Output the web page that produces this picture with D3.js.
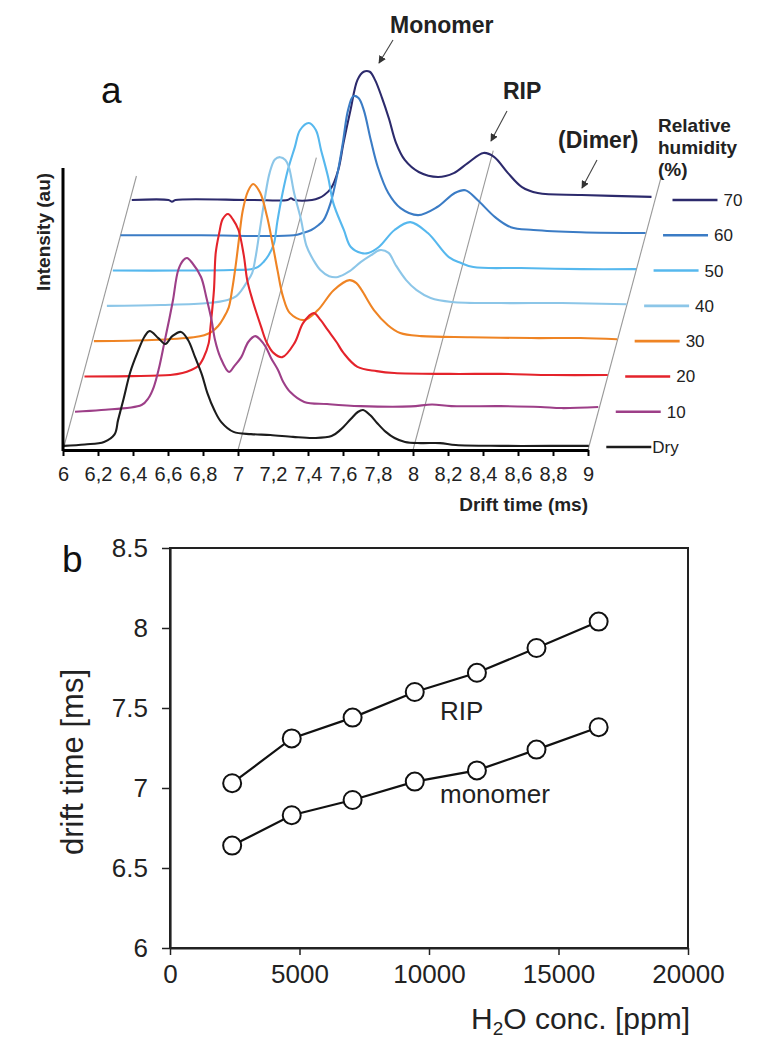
<!DOCTYPE html>
<html><head><meta charset="utf-8">
<script src="https://cdn.jsdelivr.net/npm/d3@7"></script>
<style>
body{margin:0;background:#fff}
svg{display:block;font-family:"Liberation Sans",Arial,Helvetica,sans-serif}
</style>
</head><body>
<svg id="chart" width="776" height="1050"></svg>
<script>
// ---------- Panel a data: drift time (ms), intensity (au) ----------
const seriesNames  = ["Dry","10","20","30","40","50","60","70"];
const seriesColors = ["#1c1c1c","#9d3f88","#e4232b","#ef8424","#8cc6e8","#56b8ee","#3b7cc5","#2c2a6c"];

const traceDry = [[6.00,0.4],[6.12,0.9],[6.23,1.8],[6.29,4.5],[6.31,9.6],[6.34,16.8],[6.38,26.8],[6.42,33.6],[6.46,39.3],[6.49,41.4],[6.54,38.9],[6.58,36.8],[6.62,39.6],[6.67,41.1],[6.71,38.2],[6.75,32.1],[6.79,25.7],[6.82,19.3],[6.86,13.2],[6.90,8.9],[6.97,5.4],[7.07,4.6],[7.18,4.3],[7.31,3.6],[7.43,3.2],[7.53,3.9],[7.58,6.1],[7.64,10],[7.68,12.5],[7.71,13.2],[7.75,11.4],[7.79,8.6],[7.84,5.4],[7.89,3.2],[7.95,1.8],[8.04,1.4],[8.15,1.4],[8.24,0.7],[8.50,0.4],[8.78,0.4],[9.00,0.4]];
const trace10 = [[6.01,0],[6.16,0.6],[6.39,2.4],[6.43,4.9],[6.46,8.8],[6.49,15.6],[6.52,24.5],[6.55,33.5],[6.57,39.9],[6.60,50.6],[6.63,54.2],[6.65,54.9],[6.68,53.1],[6.73,48.1],[6.76,41],[6.79,32.8],[6.81,25.6],[6.84,19.5],[6.89,14.2],[6.92,16.3],[6.96,19.5],[7.00,24.9],[7.04,27],[7.07,25.6],[7.10,23.1],[7.13,19.2],[7.17,14.9],[7.20,10.6],[7.24,7],[7.32,3.5],[7.45,2.75],[7.64,2],[7.93,1.9],[8.05,2.6],[8.16,2],[8.44,2],[8.67,1.7],[8.79,1.3],[9.00,1.7]];
const trace20 = [[6.01,0],[6.28,0.1],[6.50,0.5],[6.57,1.2],[6.62,2.3],[6.66,3.7],[6.69,6.6],[6.72,11.9],[6.73,17.6],[6.75,30.9],[6.76,44.1],[6.78,51.2],[6.80,56.2],[6.83,58],[6.86,55.9],[6.89,52.3],[6.92,43.4],[6.94,34.4],[6.97,27.3],[7.02,17.6],[7.05,12.3],[7.09,8.4],[7.14,6.9],[7.21,11.9],[7.26,19.1],[7.32,22.6],[7.36,20.1],[7.40,16.6],[7.45,12.3],[7.49,8.4],[7.57,3.4],[7.68,1.9],[7.78,1.2],[8.10,0.9],[8.39,0.9],[8.68,0.5],[9.00,0.5]];
const trace30 = [[6.01,0],[6.34,0.4],[6.58,1.4],[6.64,2.1],[6.68,3.2],[6.72,5.4],[6.75,8.2],[6.78,12],[6.80,18.5],[6.82,27],[6.84,37],[6.86,46.5],[6.89,53.5],[6.92,56.1],[6.96,53],[7.00,44.3],[7.03,35],[7.06,25],[7.09,16],[7.13,10],[7.21,7.5],[7.29,11.1],[7.38,18.2],[7.47,21.8],[7.51,20.7],[7.54,18.2],[7.61,11.1],[7.69,5.7],[7.76,2.9],[7.88,1.8],[8.16,1.4],[8.51,1.1],[8.79,1.1],[9.00,0.7]];
const trace40 = [[6.03,0],[6.34,0.3],[6.61,1],[6.72,2.1],[6.77,3.5],[6.80,5.6],[6.83,8.5],[6.86,11.7],[6.88,17.5],[6.90,25.5],[6.93,37.5],[6.96,47.5],[6.99,52.3],[7.02,53.1],[7.05,52.1],[7.07,49.6],[7.10,40.3],[7.14,30.6],[7.17,21.5],[7.21,16.4],[7.25,12.8],[7.30,10.6],[7.35,10.3],[7.41,12.1],[7.48,15.6],[7.54,18.1],[7.59,19.9],[7.64,18.9],[7.68,14.6],[7.74,9.2],[7.80,5.6],[7.88,2.8],[8.00,1.4],[8.28,1],[8.63,1],[9.00,0.6]];
const trace50 = [[6.01,0],[6.40,0],[6.69,0.2],[6.80,0.5],[6.84,1.3],[6.87,3],[6.90,5.5],[6.93,9.5],[6.95,17.5],[6.98,27.7],[7.01,35.9],[7.05,44.1],[7.08,50.2],[7.13,52.7],[7.17,50.2],[7.20,43],[7.24,33.4],[7.27,24.1],[7.33,14.5],[7.37,8.4],[7.43,6.25],[7.47,6.25],[7.53,8.4],[7.62,14.5],[7.71,17.3],[7.81,13.4],[7.93,4.8],[8.00,2.7],[8.07,1.25],[8.34,0.9],[8.69,0.5],[9.00,0.5]];
const trace60 = [[6.00,0],[6.46,0],[6.99,0],[7.04,0.8],[7.09,1.9],[7.13,3.6],[7.16,5.4],[7.20,11.5],[7.24,22.2],[7.27,32.9],[7.30,44.7],[7.33,49.7],[7.36,49],[7.39,44.7],[7.43,34],[7.47,24.4],[7.53,15.1],[7.60,9.7],[7.70,7.2],[7.81,10.1],[7.91,15.1],[7.97,16.1],[8.04,12.6],[8.14,6.5],[8.23,2.9],[8.36,1.9],[8.63,1.1],[9.00,0.8]];
const trace70 = [[6.01,0],[6.22,0],[6.24,-0.6],[6.26,0],[6.69,0],[6.90,0],[6.92,0.6],[6.94,0],[7.04,0],[7.08,0.7],[7.11,1.8],[7.15,4.3],[7.19,10.7],[7.22,20.4],[7.26,32.1],[7.30,42.9],[7.335,45.8],[7.37,45.8],[7.40,42.9],[7.44,36.5],[7.48,29],[7.52,20.4],[7.57,14.3],[7.65,10],[7.76,8.2],[7.85,9.6],[7.93,13.2],[8.02,16.8],[8.08,15.4],[8.16,9.6],[8.24,4.6],[8.33,2.5],[8.58,1.8],[8.98,1.1]];
const traces = [traceDry,trace10,trace20,trace30,trace40,trace50,trace60,trace70];

const driftTicks  = [6,6.2,6.4,6.6,6.8,7,7.2,7.4,7.6,7.8,8,8.2,8.4,8.6,8.8,9];
const driftLabels = ["6","6,2","6,4","6,6","6,8","7","7,2","7,4","7,6","7,8","8","8,2","8,4","8,6","8,8","9"];
const depthGridTimes = [6,7,8,9];
const depthGridReach = [7.68,8.2,8.4,7.68]; // depth (in series steps) reached by each slanted guide

// ---------- Panel b data ----------
const h2oConc     = [2400,4700,7050,9450,11850,14150,16550];
const ripTime     = [7.03,7.31,7.44,7.60,7.72,7.875,8.04];
const monomerTime = [6.64,6.83,6.925,7.04,7.11,7.24,7.38];
const concTicks   = [0,5000,10000,15000,20000];
const timeTicks   = [6,6.5,7,7.5,8,8.5];
const timeLabels  = ["6","6.5","7","7.5","8","8.5"];

const svg = d3.select("#chart");

// ================= Panel a =================
const axisY = 450;
const xA = d3.scaleLinear().domain([6,9]).range([63,588]);
const hA = d3.scaleLinear().domain([0,100]).range([0,280]);      // intensity -> height px
const depth = d3.scaleLinear().domain([0,7]).range([3,250]);     // series index -> lift px
const skew = 0.268;
const shift = i => depth(i)*skew;

const gA = svg.append("g");

// slanted guide lines
depthGridTimes.forEach((t,k)=>{
  const h = depth(depthGridReach[k]);
  gA.append("line")
    .attr("x1",xA(t)).attr("y1",axisY)
    .attr("x2",xA(t)+h*skew).attr("y2",axisY-h)
    .attr("stroke","#9a9a9a").attr("stroke-width",1.1);
});

// traces (back to front)
const lineGen = i => d3.line()
  .x(d => xA(d[0]) + shift(i))
  .y(d => axisY - depth(i) - hA(d[1]))
  .curve(d3.curveCatmullRom.alpha(0.5));

for (let i = traces.length-1; i >= 0; i--) {
  gA.append("path").datum(traces[i])
    .attr("d", lineGen(i))
    .attr("fill","none")
    .attr("stroke",seriesColors[i])
    .attr("stroke-width",2.1)
    .attr("stroke-linejoin","round");
}

// legend
seriesNames.forEach((name,i)=>{
  const y = axisY - depth(i);
  const x1 = xA(9.10)+shift(i), x2 = xA(9.357)+shift(i);
  gA.append("line").attr("x1",x1).attr("x2",x2).attr("y1",y).attr("y2",y)
    .attr("stroke",seriesColors[i]).attr("stroke-width",2.6);
  gA.append("text").attr("x", x2 + (i===0?1:6)).attr("y", y+6)
    .attr("font-size",17).attr("fill","#222").text(name);
});

// x axis
const axA = d3.axisBottom(xA).tickValues(driftTicks)
  .tickFormat((d,k)=>driftLabels[k]).tickSize(6).tickSizeOuter(0).tickPadding(11);
const gx = gA.append("g").attr("transform",`translate(0,${axisY})`).call(axA);
gx.select(".domain").attr("stroke","#000").attr("stroke-width",3);
gx.selectAll(".tick line").attr("stroke","#000").attr("stroke-width",2);
gx.selectAll(".tick text").attr("font-size",20).attr("fill","#222")
  .attr("font-family","'Liberation Sans',Arial,sans-serif");

// y axis line
gA.append("line").attr("x1",63).attr("x2",63).attr("y1",168).attr("y2",axisY+1)
  .attr("stroke","#000").attr("stroke-width",3);

// titles
gA.append("text").attr("x",588).attr("y",511).attr("text-anchor","end")
  .attr("font-size",19).attr("font-weight","bold").attr("fill","#222").text("Drift time (ms)");
gA.append("text").attr("transform","translate(50,232) rotate(-90)").attr("text-anchor","middle")
  .attr("font-size",19).attr("font-weight","bold").attr("fill","#222").text("Intensity (au)");
gA.append("text").attr("x",101).attr("y",103).attr("font-size",37).attr("fill","#111").text("a");

// annotations
const ann = [
  {t:"Monomer", x:390, y:33, ax1:393, ay1:40, ax2:379, ay2:63},
  {t:"RIP",     x:503, y:99, ax1:507, ay1:111, ax2:491, ay2:141},
  {t:"(Dimer)", x:558, y:148, ax1:597, ay1:160, ax2:582, ay2:188}
];
svg.append("defs").append("marker").attr("id","ah").attr("viewBox","0 0 10 10")
  .attr("refX",9).attr("refY",5).attr("markerWidth",7).attr("markerHeight",7)
  .attr("orient","auto").append("path").attr("d","M0,0L10,5L0,10z").attr("fill","#333");
ann.forEach(a=>{
  gA.append("text").attr("x",a.x).attr("y",a.y).attr("font-size",23)
    .attr("font-weight","bold").attr("fill","#222").text(a.t);
  gA.append("line").attr("x1",a.ax1).attr("y1",a.ay1).attr("x2",a.ax2).attr("y2",a.ay2)
    .attr("stroke","#444").attr("stroke-width",1.1).attr("marker-end","url(#ah)");
});
const rh = gA.append("text").attr("font-size",19).attr("font-weight","bold").attr("fill","#222");
["Relative","humidity","(%)"].forEach((s,k)=>{
  rh.append("tspan").attr("x",658).attr("y",132+k*22).text(s);
});

// ================= Panel b =================
const xB = d3.scaleLinear().domain([0,20000]).range([170,688]);
const yB = d3.scaleLinear().domain([6,8.5]).range([948,548]);
const gB = svg.append("g");

gB.append("rect").attr("x",170).attr("y",548).attr("width",518).attr("height",400)
  .attr("fill","none").attr("stroke","#222").attr("stroke-width",2);

const axBx = d3.axisBottom(xB).tickValues(concTicks).tickFormat(d3.format("d"))
  .tickSize(7).tickSizeOuter(0).tickPadding(10);
const gbx = gB.append("g").attr("transform","translate(0,948)").call(axBx);
gbx.select(".domain").attr("stroke","#222").attr("stroke-width",2.2);
gbx.selectAll(".tick line").attr("stroke","#222").attr("stroke-width",1.5);
gbx.selectAll(".tick text").attr("font-size",26).attr("fill","#222")
  .attr("font-family","'Liberation Sans',Arial,sans-serif");

const axBy = d3.axisLeft(yB).tickValues(timeTicks).tickFormat((d,k)=>timeLabels[k])
  .tickSize(8).tickSizeOuter(0).tickPadding(14);
const gby = gB.append("g").attr("transform","translate(170,0)").call(axBy);
gby.select(".domain").attr("stroke","#222").attr("stroke-width",2.2);
gby.selectAll(".tick line").attr("stroke","#222").attr("stroke-width",1.5);
gby.selectAll(".tick text").attr("font-size",26).attr("fill","#222")
  .attr("font-family","'Liberation Sans',Arial,sans-serif");

const lineB = d3.line().x(d=>xB(d[0])).y(d=>yB(d[1]));
[ripTime, monomerTime].forEach(ser=>{
  const pts = h2oConc.map((c,k)=>[c,ser[k]]);
  gB.append("path").datum(pts).attr("d",lineB).attr("fill","none")
    .attr("stroke","#111").attr("stroke-width",2.2);
  gB.selectAll(null).data(pts).enter().append("circle")
    .attr("cx",d=>xB(d[0])).attr("cy",d=>yB(d[1])).attr("r",9)
    .attr("fill","#fff").attr("stroke","#111").attr("stroke-width",2);
});

gB.append("text").attr("x",440).attr("y",720).attr("font-size",26).attr("fill","#222").text("RIP");
gB.append("text").attr("x",440).attr("y",803).attr("font-size",26).attr("fill","#222").text("monomer");
gB.append("text").attr("x",62).attr("y",572).attr("font-size",37).attr("fill","#111").text("b");
gB.append("text").attr("transform","translate(83,762) rotate(-90)").attr("text-anchor","middle")
  .attr("font-size",31).attr("fill","#222").text("drift time [ms]");
const xt = gB.append("text").attr("x",690).attr("y",1029).attr("text-anchor","end")
  .attr("font-size",30).attr("fill","#222");
xt.append("tspan").text("H");
xt.append("tspan").attr("font-size",19).attr("dy",6).text("2");
xt.append("tspan").attr("dy",-6).text("O conc. [ppm]");
</script>
</body></html>
